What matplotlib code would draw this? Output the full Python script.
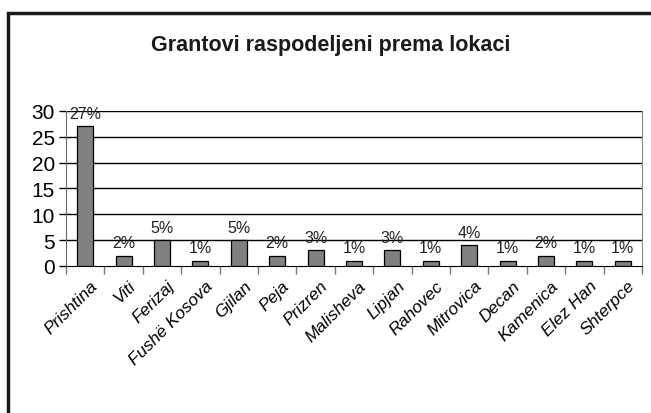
import numpy as np
import matplotlib.pyplot as plt
import matplotlib.transforms as mtransforms
from matplotlib.patches import Rectangle

# podaci
lokacije = ["Prishtina", "Viti", "Ferizaj", "Fushë Kosova", "Gjilan", "Peja",
            "Prizren", "Malisheva", "Lipjan", "Rahovec", "Mitrovica", "Decan",
            "Kamenica", "Elez Han", "Shterpce"]
vrednosti = [27, 2, 5, 1, 5, 2, 3, 1, 3, 1, 4, 1, 2, 1, 1]
oznake = ["27%", "2%", "5%", "1%", "5%", "2%", "3%", "1%", "3%", "1%",
          "4%", "1%", "2%", "1%", "1%"]
y_ticks = [0, 5, 10, 15, 20, 25, 30]

plt.rcParams['font.family'] = ['Liberation Sans', 'DejaVu Sans']

fig = plt.figure(figsize=(6.51, 4.14), dpi=100)
ax = fig.add_axes([0.1014, 0.3551, 0.8848, 0.3744])

x = np.arange(len(lokacije))
bars = ax.bar(x, vrednosti, width=0.42, color="#808080", edgecolor="black",
              linewidth=0.9, zorder=3)
ax.bar_label(bars, labels=oznake, padding=4, fontsize=11.5, color="#222222")

ax.set_xlim(-0.5, len(lokacije) - 0.5)
ax.set_ylim(0, 30)
ax.set_yticks(y_ticks)
ax.set_yticklabels([str(v) for v in y_ticks], fontsize=15)
for v in y_ticks[1:]:
    ax.axhline(v, color="black", linewidth=1.0, zorder=1)

# nazivi lokacija kao tekst (pomaknuti)
ax.set_xticks([])
pomak = mtransforms.ScaledTranslation(0.10, -0.17, fig.dpi_scale_trans)
for xi, ime in zip(x, lokacije):
    ax.text(xi, 0, ime, transform=ax.get_xaxis_transform() + pomak,
            rotation=45, ha="right", va="center", rotation_mode="anchor",
            fontsize=12.5, style="italic", clip_on=False)
ax.set_xticks(np.arange(-0.5, len(lokacije)), minor=True)
ax.tick_params(axis="x", which="minor", length=6, color="#777777", width=1)
ax.tick_params(axis="y", length=5, width=1, pad=3)

ax.spines["top"].set_visible(False)
ax.spines["right"].set_color("#888888")
ax.spines["left"].set_color("#666666")
ax.spines["bottom"].set_color("black")

fig.text(0.508, 0.891, "Grantovi raspodeljeni prema lokaci", ha="center",
         va="center", fontsize=15.5, fontweight="bold", color="#1a1a1a")

# okvir
fig.patches.append(Rectangle((7.5 / 651, -0.1), 1.2, (414 - 13.5) / 414 + 0.1,
                             transform=fig.transFigure, fill=False,
                             edgecolor="#1a1a1a", linewidth=2.5))

fig.savefig("out.png", dpi=100)
